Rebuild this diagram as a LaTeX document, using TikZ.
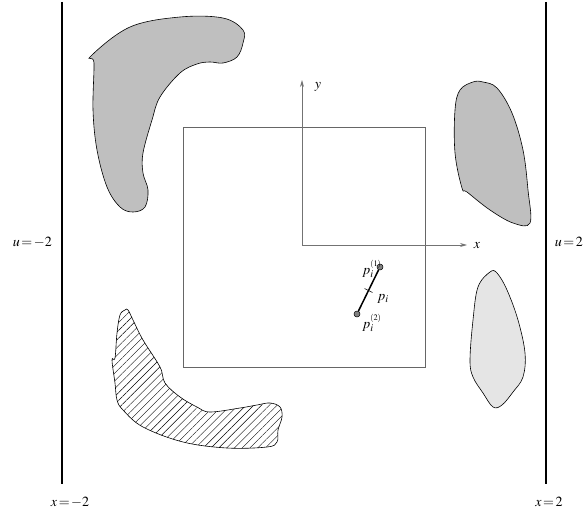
\documentclass[tikz,border=0pt]{standalone}
\usepackage{mathptmx}
\usepackage{fontspec}
\setmainfont{Liberation Serif}
\usetikzlibrary{patterns.meta,arrows.meta,calc}
\newcommand{\eqs}{\mkern2mu{=}\mkern2mu}
\newcommand{\supr}[1]{\raisebox{2.5pt}{$\scriptscriptstyle(#1)$}}
\begin{document}
\begin{tikzpicture}[x=1pt,y=-1pt,font=\fontsize{14}{16}\selectfont,
  wall/.style={line width=1.6pt,black},
  axis/.style={draw=black!55,line width=0.8pt,-{Stealth[length=7pt,width=4pt]}},
  blob/.style={draw=black,line width=0.6pt},
  pt/.style={circle,draw=black,fill=black!50,inner sep=0pt,minimum size=6pt,line width=0.5pt},
  lbl/.style={inner sep=0pt}]
\useasboundingbox (0,0) rectangle (584,519);
% walls
\coordinate (WLt) at (62,2); \coordinate (WLb) at (62,484);
\coordinate (WRt) at (546,2); \coordinate (WRb) at (546,484);
\draw[wall] (WLt) -- (WLb);
\draw[wall] (WRt) -- (WRb);
\node[lbl,anchor=base east] (uL) at (52,246) {$u\eqs{-}2$};
\node[lbl,anchor=base east] (uR) at (583,246) {$u\eqs2$};
\node[lbl,anchor=base] (xL) at (70,506) {$x\eqs{-}2$};
\node[lbl,anchor=base] (xR) at (549,506) {$x\eqs2$};
% square
\coordinate (S1) at (183,127); \coordinate (S2) at (425,367);
\draw[black!60,line width=0.8pt] (S1) rectangle (S2);
% axes
\coordinate (O) at (302,245);
\coordinate (Yt) at (302,80);
\coordinate (Xr) at (467,245);
\draw[axis] (O) -- (Yt);
\draw[axis] (O) -- (Xr);
\node[lbl] (ylab) at (318,87) {$y$};
\node[lbl] (xlab) at (477,246) {$x$};
% blobs
\draw[blob,fill=black!25] plot[smooth cycle,tension=0.6] coordinates {
 (91,56) (130,27) (180,17) (223,18) (243,30) (243,43) (237,57) (223,63) (210,62)
 (197,64) (180,73) (160,97) (152,120) (143,153) (143,173) (148,190) (145,207)
 (133,212) (120,207) (107,187) (97,150) (93,110) (94,63)};
\draw[blob,fill=black!25] plot[smooth cycle,tension=0.6] coordinates {
 (473,82) (460,90) (455,110) (455,153) (462,188) (467,192) (490,210) (513,223)
 (530,223) (528,190) (523,150) (512,113) (497,88) (483,82)};
\draw[blob,fill=black!10] plot[smooth cycle,tension=0.6] coordinates {
 (490,272) (478,287) (473,320) (470,360) (473,377) (483,393) (493,407) (502,405)
 (513,392) (523,377) (525,353) (518,320) (507,290) (497,273)};
\draw[blob,pattern={Lines[angle=45,distance=5.5pt,line width=0.4pt]}] plot[smooth cycle,tension=0.6] coordinates {
 (125,310) (120,315) (117,333) (115,358) (112,360) (115,383) (117,400) (123,410)
 (143,427) (183,442) (227,448) (267,447) (277,442) (278,430) (282,417) (280,407)
 (270,403) (257,405) (240,408) (210,412) (197,407) (180,397) (165,383) (160,367)
 (143,340) (133,320) (128,310)};
% segment
\node[pt] (p1) at (380,267) {};
\node[pt] (p2) at (357,314) {};
\draw[line width=1.5pt] (p1) -- (p2);
\coordinate (pm) at ($(p1)!0.5!(p2)$);
\draw[line width=0.5pt] ($(pm)+(-4,-2)$) -- ($(pm)+(4,2)$);
\node[lbl,anchor=base west] (l1) at (362,274) {$p_i^{\supr{1}}$};
\node[lbl,anchor=base west] (lm) at (377,300) {$p_i$};
\node[lbl,anchor=base west] (l2) at (362,328) {$p_i^{\supr{2}}$};
\end{tikzpicture}
\end{document}
